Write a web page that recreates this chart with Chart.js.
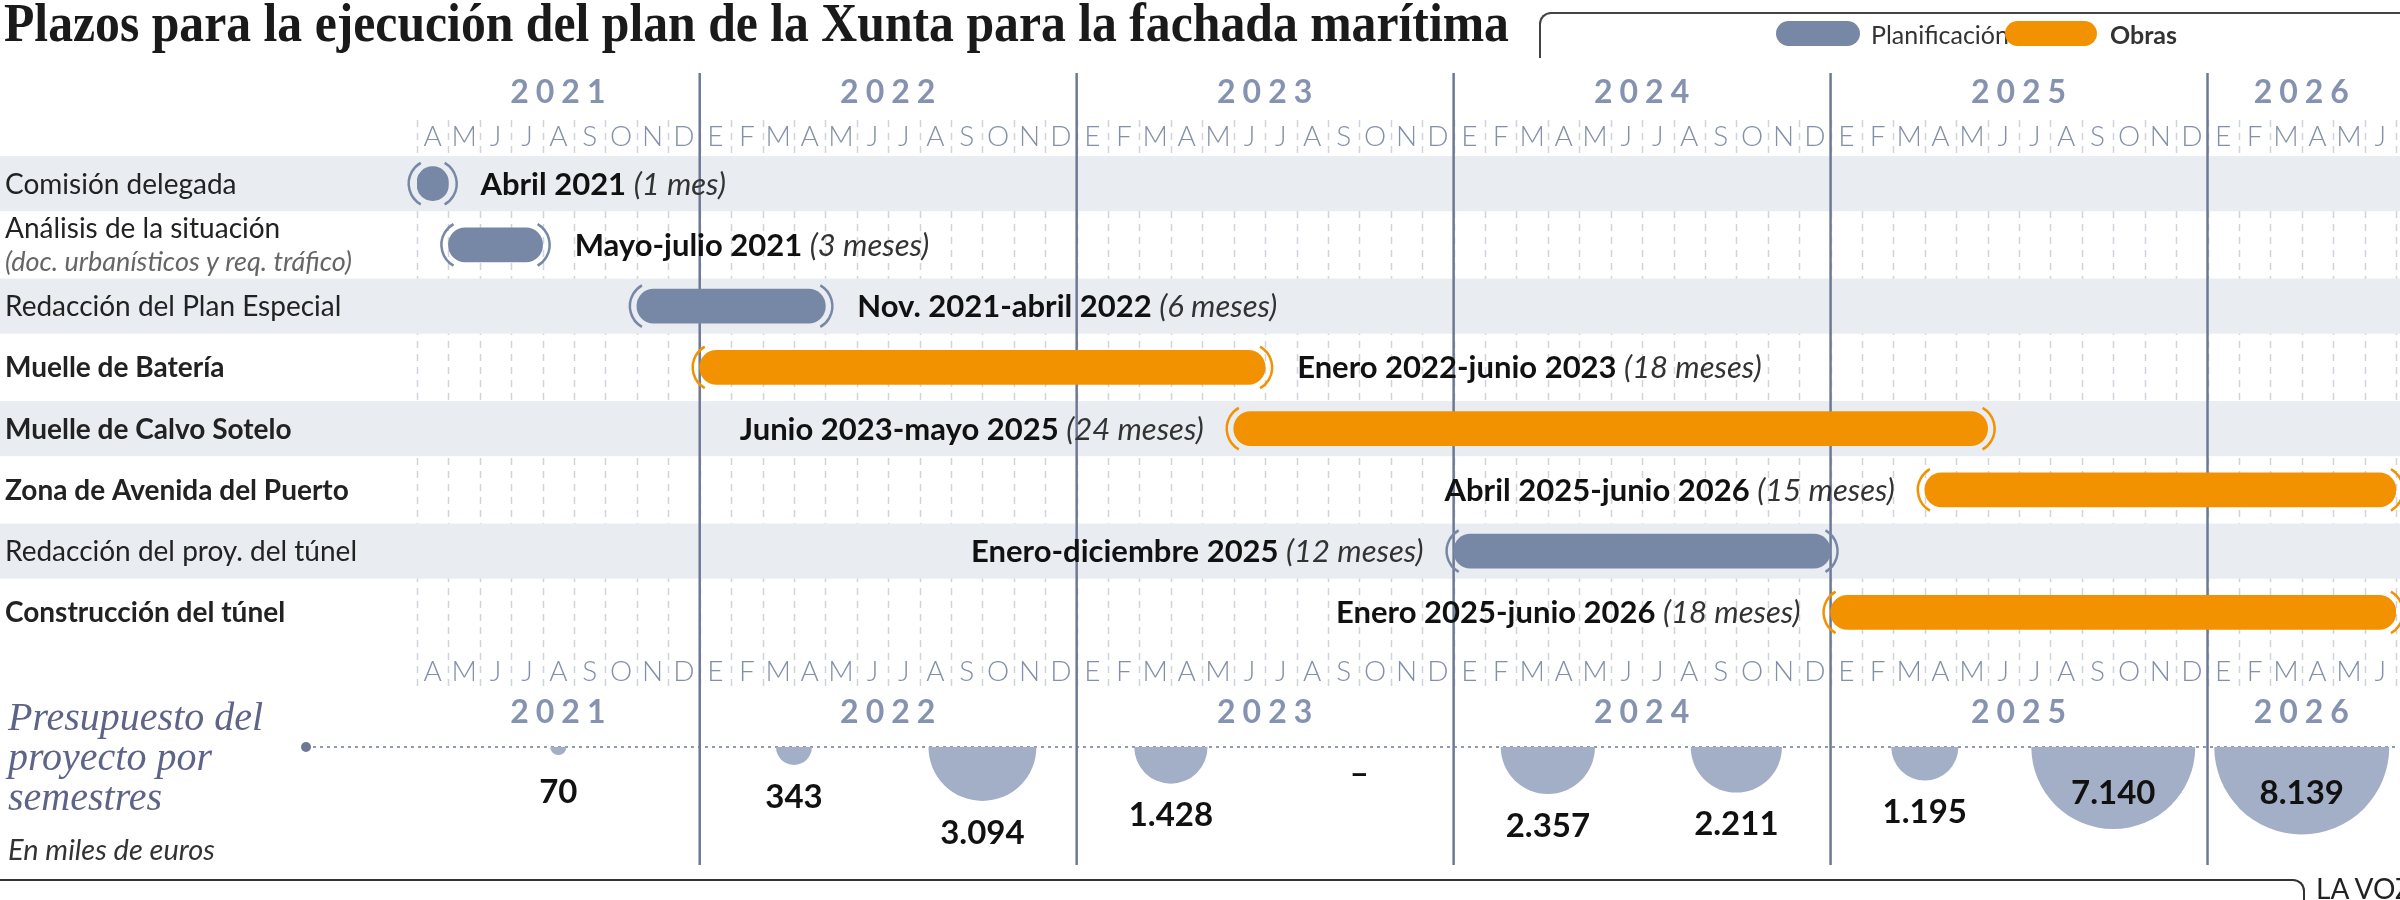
<!DOCTYPE html>
<html><head><meta charset="utf-8">
<script src="https://cdn.jsdelivr.net/npm/chart.js@4"></script>
<style>
body{margin:0;background:#fff;width:2400px;height:900px;overflow:hidden;position:relative;font-family:Lato,sans-serif}
canvas{position:absolute;left:0;top:0}
#title{position:absolute;left:4px;top:-8px;font:bold 54px "Liberation Serif",serif;color:#1a1a1a;white-space:nowrap;transform-origin:0 0}
#legbox{position:absolute;left:1539px;top:12px;width:870px;height:44px;border-top:2px solid #444;border-left:2px solid #444;border-top-left-radius:12px}
.pill{position:absolute;height:25px;border-radius:13px}
.lt{position:absolute;font-size:25px;color:#333;top:19px;white-space:nowrap}
#budget{position:absolute;left:8px;top:697px;font:italic 40px "Liberation Serif",serif;color:#5e6388;line-height:40px;white-space:nowrap}
#miles{position:absolute;left:8px;top:831px;font:italic 29px Lato,sans-serif;color:#333;white-space:nowrap}
#foot{position:absolute;left:0;top:879px;width:2303px;height:30px;border-top:2px solid #333;border-right:2px solid #333;border-top-right-radius:12px}
#lavoz{position:absolute;left:2316px;top:871px;font:28px Lato,sans-serif;color:#222;white-space:nowrap}
</style></head><body>
<canvas id="c1" width="2400" height="900"></canvas>
<canvas id="c2" width="2484" height="988" style="pointer-events:none"></canvas>
<div id="title">Plazos para la ejecución del plan de la Xunta para la fachada marítima</div>
<div id="legbox"></div>
<div class="pill" style="left:1776px;top:21px;width:84px;background:#7788a6"></div>
<div class="lt" style="left:1871px">Planificación</div>
<div class="pill" style="left:2005px;top:21px;width:92px;background:#f39200"></div>
<div class="lt" style="left:2110px;font-weight:bold">Obras</div>
<div id="budget">Presupuesto del<br>proyecto por<br>semestres</div>
<div id="miles">En miles de euros</div>
<div id="foot"></div>
<div id="lavoz">LA VOZ</div>
<script>
// ---- data ----
const tasks = ['Comisión delegada','Análisis de la situación','Redacción del Plan Especial','Muelle de Batería','Muelle de Calvo Sotelo','Zona de Avenida del Puerto','Redacción del proy. del túnel','Construcción del túnel'];
const taskNotes = ['','(doc. urbanísticos y req. tráfico)','','','','','',''];
const taskKinds = ['plan','plan','plan','obra','obra','obra','plan','obra'];
// months counted from April 2021 (0 = start of April 2021)
const taskStarts = [0,1,7,9,26,48,33,45];
const taskEnds   = [1,4,13,27,50,63,45,63];
const periodText = ['Abril 2021','Mayo-julio 2021','Nov. 2021-abril 2022','Enero 2022-junio 2023','Junio 2023-mayo 2025','Abril 2025-junio 2026','Enero-diciembre 2025','Enero 2025-junio 2026'];
const durationText = ['(1 mes)','(3 meses)','(6 meses)','(18 meses)','(24 meses)','(15 meses)','(12 meses)','(18 meses)'];
const labelSide = ['right','right','right','right','left','left','left','left'];
const years = ['2021','2022','2023','2024','2025','2026'];
const yearStarts = [0,9,21,33,45,57];
const yearEnds = [9,21,33,45,57,63];
const monthLetters = ['A','M','J','J','A','S','O','N','D',
 'E','F','M','A','M','J','J','A','S','O','N','D',
 'E','F','M','A','M','J','J','A','S','O','N','D',
 'E','F','M','A','M','J','J','A','S','O','N','D',
 'E','F','M','A','M','J','J','A','S','O','N','D',
 'E','F','M','A','M','J'];
const budgetX = [4.5,12,18,24,30,36,42,48,54,60];
const budgetValues = [70,343,3094,1428,0,2357,2211,1195,7140,8139];

// ---- styles ----
const COL = {plan:'#7788a6', obra:'#f39200'};
const T = document.getElementById('title');
T.style.transform = 'scaleX(' + (1505 / T.scrollWidth) + ')';
const fmt = v => v === 0 ? '–' : (v >= 1000 ? Math.floor(v/1000) + '.' + String(v%1000).padStart(3,'0') : String(v));

const ganttBg = {
  id:'ganttBg',
  beforeDatasetsDraw(chart){
    const c = chart.ctx, x = chart.scales.x, y = chart.scales.y;
    const rowH = y.getPixelForValue(1) - y.getPixelForValue(0);
    c.save();
    c.strokeStyle = '#cfd3dc'; c.lineWidth = 1.5; c.setLineDash([7,6]);
    for (let m = 0; m <= monthLetters.length; m++) {
      const px = Math.round(x.getPixelForValue(m)) + 0.5;
      c.beginPath(); c.moveTo(px,120); c.lineTo(px,688); c.stroke();
    }
    c.setLineDash([]);
    c.fillStyle = '#e9ecf1';
    tasks.forEach((t,i) => { if (i % 2 === 0) { const py = y.getPixelForValue(i); c.fillRect(0, py - rowH*0.45, 2400, rowH*0.9); } });
    c.strokeStyle = '#6d7994'; c.lineWidth = 2.5;
    yearStarts.slice(1).forEach(s => { const px = x.getPixelForValue(s); c.beginPath(); c.moveTo(px,73); c.lineTo(px,865); c.stroke(); });
    c.fillStyle = '#8390a8'; c.font = '300 28px Lato'; c.textAlign = 'center'; c.textBaseline = 'middle';
    monthLetters.forEach((l,m) => { const px = x.getPixelForValue(m + 0.5); c.fillText(l, px, 137); c.fillText(l, px, 672); });
    c.fillStyle = '#8593b0'; c.font = 'bold 32px Lato';
    if (c.letterSpacing !== undefined) c.letterSpacing = '7px';
    years.forEach((yr,i) => { const px = x.getPixelForValue((yearStarts[i] + yearEnds[i]) / 2) + 3; c.fillText(yr, px, 93); c.fillText(yr, px, 713); });
    if (c.letterSpacing !== undefined) c.letterSpacing = '0px';
    c.textAlign = 'left';
    tasks.forEach((t,i) => {
      const py = y.getPixelForValue(i);
      c.font = (taskKinds[i] === 'obra' ? 'bold ' : '') + '28px Lato';
      if (taskNotes[i]) {
        c.fillStyle = '#222'; c.fillText(t, 5, py - 16);
        c.font = 'italic 27px Lato'; c.fillStyle = '#666'; c.fillText(taskNotes[i], 5, py + 17);
      } else { c.fillStyle = '#222'; c.fillText(t, 5, py + 1); }
    });
    c.restore();
  },
  afterDatasetsDraw(chart){
    const c = chart.ctx, meta = chart.getDatasetMeta(0);
    c.save();
    meta.data.forEach((el,i) => {
      const left = Math.min(el.x, el.base), right = Math.max(el.x, el.base);
      const r = el.height / 2, R = r + 7, a = 1.05;
      c.strokeStyle = COL[taskKinds[i]]; c.lineWidth = 2.5;
      c.beginPath(); c.arc(left + Math.min(r,(right-left)/2), el.y, R, Math.PI - a, Math.PI + a); c.stroke();
      c.beginPath(); c.arc(right - Math.min(r,(right-left)/2), el.y, R, -a, a); c.stroke();
      c.textBaseline = 'middle'; c.fillStyle = '#111';
      c.font = 'bold 31px Lato'; const w1 = c.measureText(periodText[i] + ' ').width;
      c.font = 'italic 31px Lato'; const w2 = c.measureText(durationText[i]).width;
      const x0 = labelSide[i] === 'right' ? right + 32 : left - 30 - w1 - w2;
      c.textAlign = 'left';
      c.font = 'bold 31px Lato'; c.fillText(periodText[i] + ' ', x0, el.y + 1);
      c.font = 'italic 31px Lato'; c.fillStyle = '#333'; c.fillText(durationText[i], x0 + w1, el.y + 1);
    });
    c.restore();
  }
};

new Chart(document.getElementById('c1'), {
  type:'bar',
  data:{ labels:tasks, datasets:[{
    data: taskStarts.map((s,i) => [s, taskEnds[i]]),
    backgroundColor: taskKinds.map(k => COL[k]),
    barThickness: 34, borderRadius: 17, borderSkipped: false
  }]},
  options:{
    indexAxis:'y', responsive:false, animation:false, devicePixelRatio:1,
    layout:{padding:{left:417,right:4,top:153,bottom:257}},
    plugins:{legend:{display:false}, tooltip:{enabled:false}},
    scales:{ x:{type:'linear',min:0,max:63,display:false}, y:{display:false} }
  },
  plugins:[ganttBg]
});

const budgetPlug = {
  id:'budgetPlug',
  beforeDatasetsDraw(chart){
    const c = chart.ctx, top = chart.chartArea.top;
    c.save(); c.strokeStyle = '#6d7994'; c.lineWidth = 1.5; c.setLineDash([3,4]);
    c.beginPath(); c.moveTo(306, top); c.lineTo(2396, top); c.stroke(); c.setLineDash([]);
    c.fillStyle = '#6d7994'; c.beginPath(); c.arc(306, top, 5, 0, Math.PI*2); c.fill();
    c.restore();
  },
  afterDatasetsDraw(chart){
    const c = chart.ctx, top = chart.chartArea.top, meta = chart.getDatasetMeta(0);
    c.save(); c.fillStyle = '#111'; c.font = 'bold 33px Lato'; c.textAlign = 'center'; c.textBaseline = 'middle';
    meta.data.forEach((el,i) => {
      const r = el.options.radius, v = budgetValues[i];
      const py = v === 0 ? top + 26 : (r > 70 ? top + 46 : top + Math.max(45, r + 32));
      c.fillText(fmt(v), el.x, py);
    });
    c.restore();
  }
};

// canvas 2 is larger than the page so the bubble auto-padding (max radius) falls outside the view
new Chart(document.getElementById('c2'), {
  type:'bubble',
  data:{ datasets:[{
    data: budgetX.map((x,i) => ({x:x, y:1, r:0.97*Math.sqrt(budgetValues[i])})),
    backgroundColor:'#a3aec7', borderWidth:0, clip:0
  }]},
  options:{
    responsive:false, animation:false, devicePixelRatio:1,
    layout:{padding:{left:417,right:88,top:747,bottom:88}},
    plugins:{legend:{display:false}, tooltip:{enabled:false}},
    scales:{ x:{type:'linear',min:0,max:63,display:false}, y:{min:0,max:1,display:false} }
  },
  plugins:[budgetPlug]
});
</script></body></html>
